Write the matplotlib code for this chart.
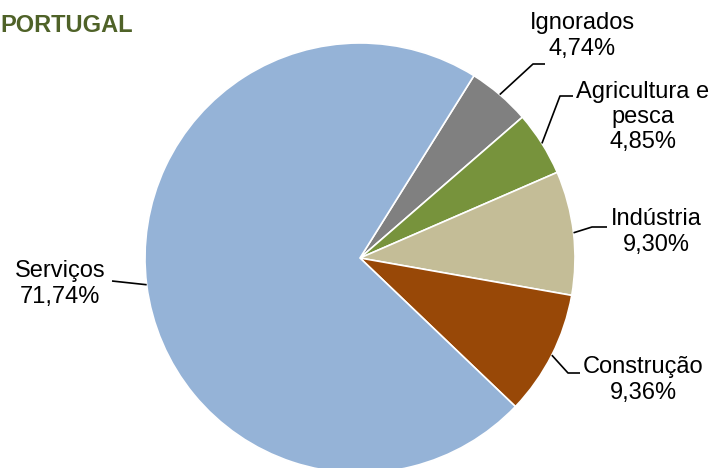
"""Distribuição por setor de atividade - Portugal."""

import numpy as np
import matplotlib.pyplot as plt

plt.rcParams["font.family"] = ["Liberation Sans", "DejaVu Sans"]

# data, in clockwise order starting with Ignorados
sectors = ["Ignorados", "Agricultura e\npesca", "Indústria", "Construção", "Serviços"]
shares = [4.74, 4.85, 9.30, 9.36, 71.74]
colors = ["#808080", "#77933C", "#C4BD97", "#984807", "#95B3D7"]

W, H = 713, 468
CENTER = (360, H - 258)
RADIUS = 215

# label layout in pixel coords (top-left origin): text centre, elbow, line end
label_pos = [(582, 36), (643, 117), (656, 232), (643, 380), (60, 284)]
elbows = [(533, 64), (560, 96), (592, 227), (568, 373), None]
line_ends = [(545, 64), (573, 96), (607, 227), (580, 373), (112, 281)]


def fmt(v):
    return f"{v:.2f}".replace(".", ",") + "%"


def main() -> None:
    fig = plt.figure(figsize=(W / 100, H / 100), dpi=100)
    ax = fig.add_axes([0, 0, 1, 1])
    ax.set_xlim(0, W)
    ax.set_ylim(0, H)
    ax.set_aspect("equal")
    ax.axis("off")

    wedges, _ = ax.pie(
        shares,
        colors=colors,
        startangle=58,
        counterclock=False,
        center=CENTER,
        radius=RADIUS,
        wedgeprops=dict(edgecolor="white", linewidth=1.2),
        frame=True,
    )
    ax.set_xlim(0, W)
    ax.set_ylim(0, H)
    ax.axis("off")

    for w, name, v, (tx, ty), elb, end in zip(wedges, sectors, shares,
                                              label_pos, elbows, line_ends):
        ang = np.deg2rad((w.theta1 + w.theta2) / 2)
        sx = CENTER[0] + RADIUS * np.cos(ang)
        sy = CENTER[1] + RADIUS * np.sin(ang)
        pts = [(sx, sy)]
        if elb is not None:
            pts.append((elb[0], H - elb[1]))
        pts.append((end[0], H - end[1]))
        xs, ys = zip(*pts)
        ax.plot(xs, ys, color="black", linewidth=1.2, solid_capstyle="butt")
        ax.text(tx, H - ty, f"{name}\n{fmt(v)}", ha="center", va="center",
                fontsize=17, color="black")

    fig.text(0, 1 - 25 / H, "PORTUGAL", ha="left", va="center",
             fontsize=17, fontweight="bold", color="#4F6228")

    fig.savefig("out.png", dpi=100)
    plt.close(fig)


if __name__ == "__main__":
    main()
